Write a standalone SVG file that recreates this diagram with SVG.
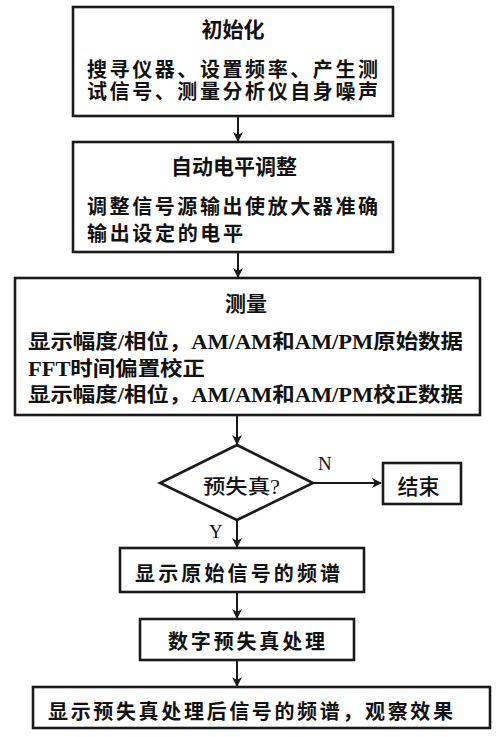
<svg xmlns="http://www.w3.org/2000/svg" width="500" height="737" viewBox="0 0 500 737">
<style>
.box{fill:#fff;stroke:#1a1a1a;stroke-width:2.6}
.t{font-family:"Noto Sans CJK SC","Noto Sans CJK JP",sans-serif;font-size:20px;font-weight:bold;fill:#111}
.l{font-family:"Liberation Serif",serif;font-weight:bold}
.lab{font-family:"Liberation Serif",serif;font-size:19px;fill:#111}
.c{stroke:#1a1a1a;stroke-width:2;fill:none}
</style>
<defs>
<marker id="ah" viewBox="0 0 10 10" refX="9" refY="5" markerWidth="10" markerHeight="10" markerUnits="userSpaceOnUse" orient="auto">
<path d="M0,0 L10,5 L0,10 L3,5 Z" fill="#1a1a1a"/>
</marker>
</defs>
<rect width="500" height="737" fill="#fff"/>
<g id="connectors">
<line class="c" x1="238" y1="116" x2="238" y2="141" marker-end="url(#ah)"/>
<line class="c" x1="238" y1="252" x2="238" y2="277" marker-end="url(#ah)"/>
<line class="c" x1="237" y1="415" x2="237" y2="444" marker-end="url(#ah)"/>
<line class="c" x1="313" y1="483" x2="381" y2="483" marker-end="url(#ah)"/>
<line class="c" x1="237" y1="520" x2="237" y2="547" marker-end="url(#ah)"/>
<line class="c" x1="237" y1="592" x2="237" y2="618" marker-end="url(#ah)"/>
<line class="c" x1="237" y1="660" x2="237" y2="686" marker-end="url(#ah)"/>
<text class="lab" x="318" y="470">N</text>
<text class="lab" x="209" y="538">Y</text>
</g>
<g id="init">
<rect class="box" x="73" y="7" width="320" height="109"/>
<text class="t" x="233" y="37" text-anchor="middle" style="font-size:21px">初始化</text>
<text class="t" x="87" y="77" textLength="291" lengthAdjust="spacing">搜寻仪器、设置频率、产生测</text>
<text class="t" x="87" y="99" textLength="291" lengthAdjust="spacing">试信号、测量分析仪自身噪声</text>
</g>
<g id="level">
<rect class="box" x="73" y="142" width="320" height="110"/>
<text class="t" x="234" y="174" text-anchor="middle" style="font-size:21px">自动电平调整</text>
<text class="t" x="87" y="214" textLength="291" lengthAdjust="spacing">调整信号源输出使放大器准确</text>
<text class="t" x="87" y="241" textLength="156" lengthAdjust="spacing">输出设定的电平</text>
</g>
<g id="measure">
<rect class="box" x="15" y="278" width="465" height="137"/>
<text class="t" x="246" y="311" text-anchor="middle" style="font-size:21px">测量</text>
<text class="t" x="28" y="349" textLength="435" lengthAdjust="spacingAndGlyphs">显示幅度<tspan class="l">/</tspan>相位，<tspan class="l">AM/AM</tspan>和<tspan class="l">AM/PM</tspan>原始数据</text>
<text class="t" x="28" y="376" textLength="177" lengthAdjust="spacingAndGlyphs"><tspan class="l">FFT</tspan>时间偏置校正</text>
<text class="t" x="28" y="402" textLength="435" lengthAdjust="spacingAndGlyphs">显示幅度<tspan class="l">/</tspan>相位，<tspan class="l">AM/AM</tspan>和<tspan class="l">AM/PM</tspan>校正数据</text>
</g>
<g id="decision">
<polygon class="box" points="237,445 313,483 237,520 160,483"/>
<text class="t" x="203" y="494" textLength="77" lengthAdjust="spacingAndGlyphs" style="font-weight:500">预失真<tspan class="l" style="font-weight:normal">?</tspan></text>
</g>
<g id="end">
<rect class="box" x="383" y="463" width="78" height="41"/>
<text class="t" x="418.5" y="494" text-anchor="middle" style="font-weight:500;font-size:21px">结束</text>
</g>
<g id="show-orig">
<rect class="box" x="120" y="548" width="244" height="44"/>
<text class="t" x="135" y="581" textLength="205" lengthAdjust="spacing">显示原始信号的频谱</text>
</g>
<g id="dpd">
<rect class="box" x="140" y="619" width="214" height="41"/>
<text class="t" x="168" y="649" textLength="157" lengthAdjust="spacing">数字预失真处理</text>
</g>
<g id="show-dpd">
<rect class="box" x="33" y="687" width="457" height="41"/>
<text class="t" x="48" y="719" textLength="405" lengthAdjust="spacing">显示预失真处理后信号的频谱，观察效果</text>
</g>
</svg>
